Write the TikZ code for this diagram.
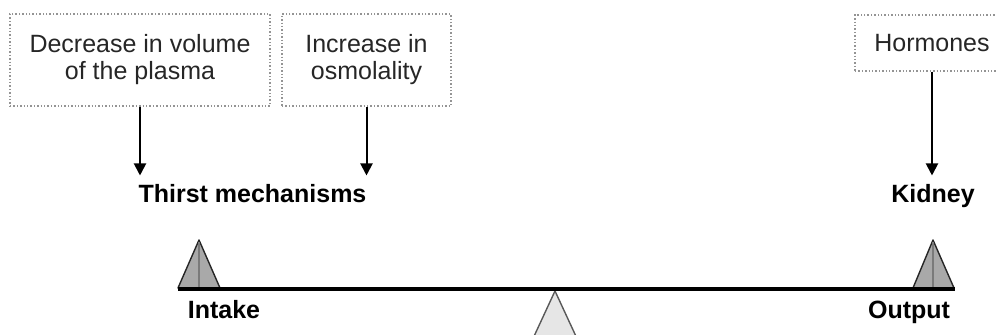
\documentclass[tikz,border=0pt]{standalone}
\usepackage{fontspec}
\setmainfont{Liberation Sans}
\usetikzlibrary{arrows.meta}
\definecolor{frame}{HTML}{949494}
\definecolor{panfill}{HTML}{A9A9A9}
\definecolor{panline}{HTML}{7A7A7A}
\definecolor{pivotfill}{HTML}{E6E6E6}
\tikzset{>={Triangle[length=6pt,width=6pt]},line width=.8pt,
  every node/.style={font=\fontsize{12.5}{13.5}\selectfont},
  factor/.style={draw=frame,densely dotted,line width=.7pt,align=center,inner sep=0pt,minimum height=46pt,text=black!85},
  organ/.style={font=\fontsize{12.5}{13.5}\selectfont\bfseries,anchor=base,inner sep=4.5pt},
  flow/.style={->,line width=1pt},
  beam/.style={line width=1.8pt,line cap=butt},
  pan/.style={draw=black!85,fill=panfill,line width=.7pt,line join=round},
  pivot/.style={draw=black!65,fill=pivotfill,line width=.7pt}}

\begin{document}
\begin{tikzpicture}[x=.5pt,y=.5pt]
\useasboundingbox(0,0)rectangle(997,335);\clip(0,0)rectangle(997,335);
\node[factor,minimum width=130pt](plasma)at(140,275){Decrease in volume\\of the plasma};
\node[factor,minimum width=84.5pt](osmo)at(366.5,275){Increase in\\osmolality};
\node[factor,minimum width=77pt,minimum height=28pt](horm)at(932,292){Hormones};
\node[organ](thirst)at(252.5,132){Thirst mechanisms};
\node[organ](kidney)at(933,132){Kidney};
\draw[flow](plasma.south)--(plasma.south|-thirst.north);
\draw[flow](osmo.south)--(osmo.south|-thirst.north);
\draw[flow](horm.south)--(horm.south|-kidney.north);
% balance
\draw[pivot](530,-10)--(555,44)--(580,-10);
\draw[pan](178,47)--(199,95)--(220,47)--cycle;\draw[panline,line width=.6pt](199,93)--(199,48);
\draw[pan](913,47)--(933,95)--(954,47)--cycle;\draw[panline,line width=.6pt](933,93)--(933,48);
\draw[beam](178,46)--(955,46);
\node[organ](intake)at(224,16){Intake};
\node[organ](output)at(909,16){Output};
\end{tikzpicture}
\end{document}
